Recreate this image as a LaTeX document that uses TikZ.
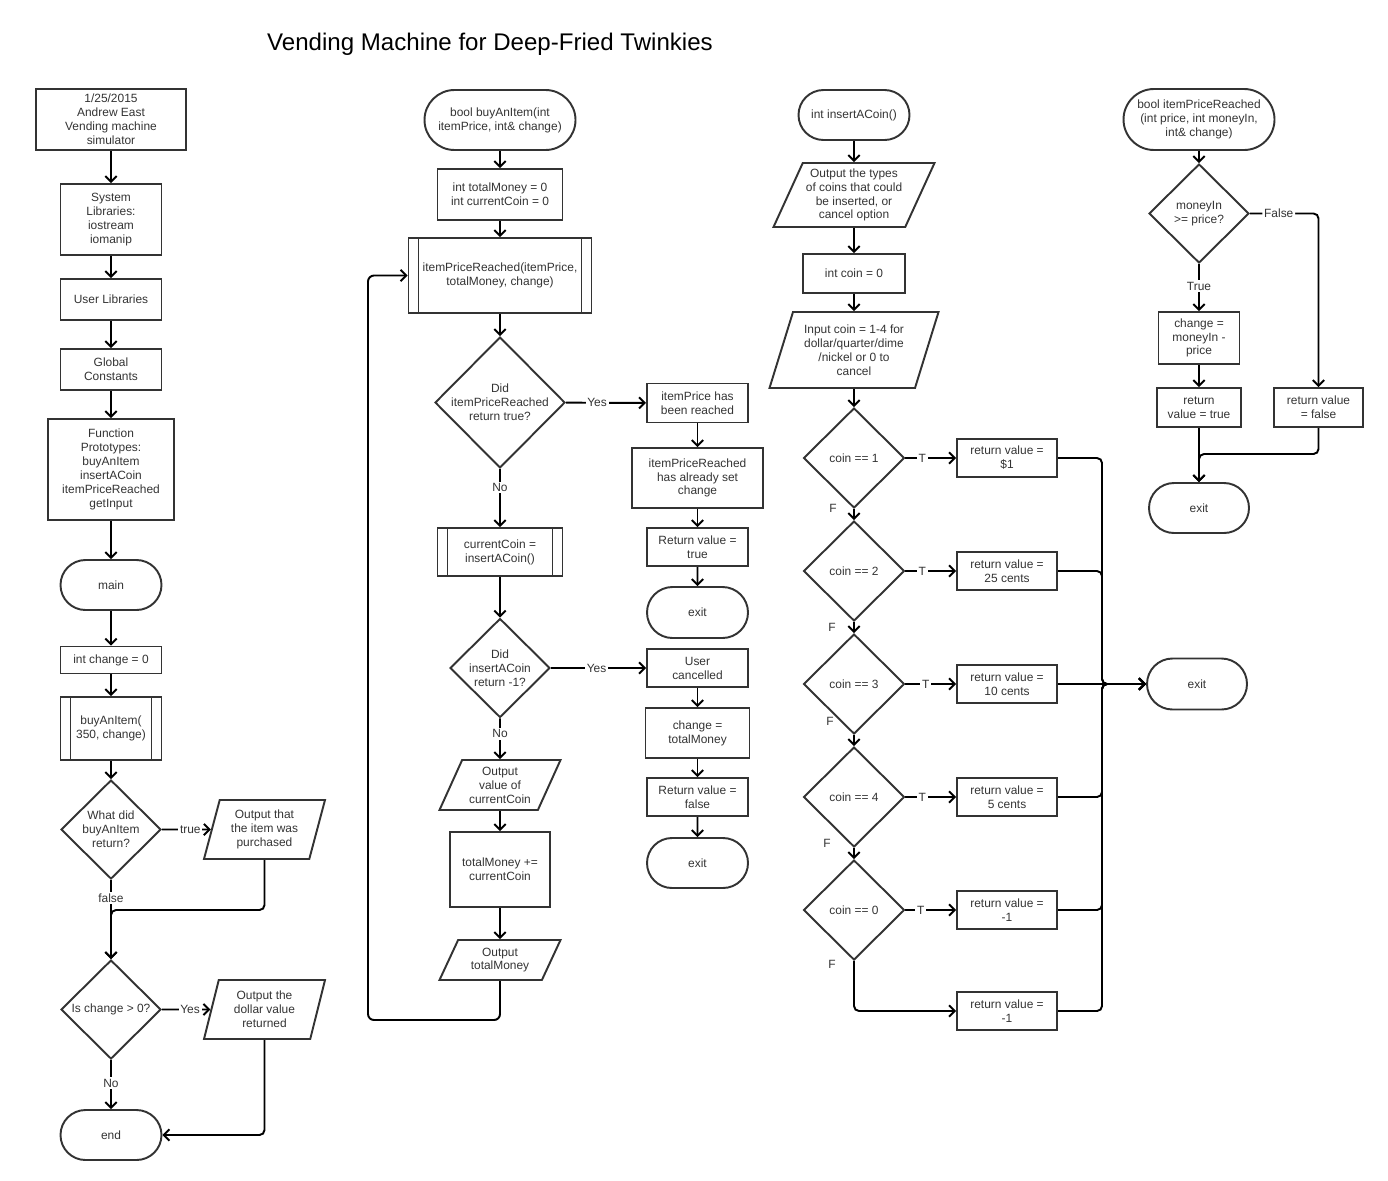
\documentclass[tikz,border=0pt]{standalone}
\usepackage{fontspec}
\setmainfont{Liberation Sans}
\usetikzlibrary{shapes.geometric,shapes.misc,arrows.meta}
\pgfdeclarelayer{bg}
\pgfsetlayers{bg,main}
\definecolor{boxline}{RGB}{51,51,51}
\definecolor{txtgray}{RGB}{51,51,51}
\tikzset{
    every node/.style={font=\fontsize{6.8}{7.9}\selectfont, text=txtgray, align=center, inner sep=0mm}
}
\tikzset{
    wh/.style 2 args={minimum width={#1*0.02cm}, minimum height={#2*0.02cm}},
    proc/.style={rectangle, draw=boxline, line width=1.1pt},
    term/.style={rounded rectangle, draw=boxline, line width=1.1pt},
    subproc/.style={proc, path picture={
        \draw [line width=1.1pt, boxline]
            ([xshift=0.2cm]path picture bounding box.north west) -- ([xshift=0.2cm]path picture bounding box.south west)
            ([xshift=-0.2cm]path picture bounding box.north east) -- ([xshift=-0.2cm]path picture bounding box.south east);}},
    decide/.style={diamond, draw=boxline, line width=1.1pt, inner sep=-3pt},
    io/.code={\pgfmathsetmacro\ioright{180-#1}%
        \tikzset{trapezium, trapezium left angle=#1, trapezium right angle/.expanded=\ioright,
            trapezium stretches body, draw=boxline, line width=1.1pt}},
    io/.default=60,
    flow/.style={line width=1.1pt, -{Straight Barb[length=3.2pt, width=6.4pt, line width=1.1pt]}},
    lbl/.style={fill=white, inner sep=1pt}
}

\begin{document}
\begin{tikzpicture}[x=0.02cm, y=-0.02cm]
        \useasboundingbox (0,0) rectangle (1388,1180);
        \node (title) [font=\fontsize{13.7}{16}\selectfont, text=black] at (490, 44) {Vending Machine for Deep-Fried Twinkies};
        \node (hdr) [proc, wh={150}{61}] at (111, 119.5) {1/25/2015\\Andrew East\\Vending machine\\simulator};
        \node (syslib) [proc, wh={101}{71}] at (111, 219.5) {System\\Libraries:\\iostream\\iomanip};
        \node (usrlib) [proc, wh={101}{41}] at (111, 299.5) {User Libraries};
        \node (glob) [proc, wh={101}{41}] at (111, 369.5) {Global\\Constants};
        \node (proto) [proc, wh={126}{101}] at (111, 469.5) {Function\\Prototypes:\\buyAnItem\\insertACoin\\itemPriceReached\\getInput};
        \node (mainT) [term, wh={101}{50}] at (111, 585) {main};
        \node (chg0) [proc, wh={101}{27}] at (111, 660) {int change = 0};
        \node (callbuy) [subproc, wh={101}{63}] at (111, 728.5) {buyAnItem(\\350, change)};
        \node (askbuy) [decide, wh={100}{99}] at (111, 829.5) {What did\\buyAnItem\\return?};
        \node (outbuy) [io=68, wh={121}{59}] at (264.5, 829.5) {Output that\\the item was\\purchased};
        \node (askchg) [decide, wh={100}{99}] at (111, 1009.5) {Is change > 0?};
        \node (outchg) [io=68, wh={121}{59}] at (264.5, 1009.5) {Output the\\dollar value\\returned};
        \node (endT) [term, wh={101}{50}] at (111, 1135) {end};
        \coordinate (mg1) at (111, 910);

        \node (buyT) [term, wh={151}{60}] at (500, 120) {bool buyAnItem(int\\itemPrice, int\& change)};
        \node (vars) [proc, wh={125}{51}] at (500, 194.5) {int totalMoney = 0\\int currentCoin = 0};
        \node (callreach) [subproc, wh={183}{75}] at (500, 275.5) {itemPriceReached(itemPrice,\\totalMoney, change)};
        \node (askreach) [decide, wh={130}{131}] at (500, 402.5) {Did\\itemPriceReached\\return true?};
        \node (reached) [proc, wh={101}{39}] at (697.5, 403) {itemPrice has\\been reached};
        \node (alreadyset) [proc, wh={131}{60}] at (697.5, 478) {itemPriceReached\\has already set\\change};
        \node (rettrue) [proc, wh={101}{38}] at (697.5, 547) {Return value =\\true};
        \node (exitA) [term, wh={101}{51}] at (697.5, 612.5) {exit};
        \node (callcoin) [subproc, wh={125}{48}] at (500, 552) {currentCoin =\\insertACoin()};
        \node (askcancel) [decide, wh={100}{99}] at (500, 668) {Did\\insertACoin\\return -1?};
        \node (cancelled) [proc, wh={101}{38}] at (697.5, 668) {User\\cancelled};
        \node (settotal) [proc, wh={104}{50}] at (697.5, 733) {change =\\totalMoney};
        \node (retfalse) [proc, wh={101}{38}] at (697.5, 797) {Return value =\\false};
        \node (exitB) [term, wh={101}{50}] at (697.5, 863) {exit};
        \node (outcoin) [io=58, wh={121}{50}] at (500, 785) {Output\\value of\\currentCoin};
        \node (addcoin) [proc, wh={100}{75}] at (500, 869.5) {totalMoney +=\\currentCoin};
        \node (outtotal) [io=53, wh={121}{40}] at (500, 960) {Output\\totalMoney};
        \coordinate (lp1) at (368, 1020);

        \node (coinT) [term, wh={111}{50}] at (854, 115) {int insertACoin()};
        \node (outtypes) [io=61, wh={161}{64}] at (854, 195) {Output the types\\of coins that could\\be inserted, or\\cancel option};
        \node (coin0) [proc, wh={102}{39}] at (854, 273.5) {int coin = 0};
        \node (incoin) [io=65, wh={169}{76}] at (854, 350) {Input coin = 1-4 for\\dollar/quarter/dime\\/nickel or 0 to\\cancel};
        \node (c1) [decide, wh={101}{100}] at (854, 458) {coin == 1};
        \node (c2) [decide, wh={101}{100}] at (854, 571) {coin == 2};
        \node (c3) [decide, wh={101}{100}] at (854, 684) {coin == 3};
        \node (c4) [decide, wh={101}{100}] at (854, 797) {coin == 4};
        \node (c5) [decide, wh={101}{100}] at (854, 910) {coin == 0};
        \node (r1) [proc, wh={100}{38}] at (1007, 458) {return value =\\\$1};
        \node (r2) [proc, wh={100}{38}] at (1007, 571) {return value =\\25 cents};
        \node (r3) [proc, wh={100}{38}] at (1007, 684) {return value =\\10 cents};
        \node (r4) [proc, wh={100}{38}] at (1007, 797) {return value =\\5 cents};
        \node (r5) [proc, wh={100}{38}] at (1007, 910) {return value =\\-1};
        \node (r6) [proc, wh={100}{38}] at (1007, 1011) {return value =\\-1};
        \node (f1) at (833, 508) {F};
        \node (f2) at (832, 627) {F};
        \node (f3) at (830, 721) {F};
        \node (f4) at (827, 843) {F};
        \node (f5) at (832, 964) {F};
        \node (cexit) [term, wh={100}{51}] at (1197, 684) {exit};
        \coordinate (mx) at (1102, 684);

        \node (reachT) [term, wh={151}{61}] at (1199, 119.5) {bool itemPriceReached\\(int price, int moneyIn,\\int\& change)};
        \node (askmoney) [decide, wh={100}{99}] at (1199, 213.5) {moneyIn\\>= price?};
        \node (calcchg) [proc, wh={81}{52}] at (1199, 338) {change =\\moneyIn -\\price};
        \node (rtrue) [proc, wh={84}{39}] at (1199, 407.5) {return\\value = true};
        \node (rfalse) [proc, wh={89}{39}] at (1318.5, 407.5) {return value\\= false};
        \node (exitC) [term, wh={100}{50}] at (1199, 508) {exit};
        \coordinate (mg4) at (1199, 454);
        \begin{pgfonlayer}{bg}
                \draw (hdr) edge [flow] (syslib);
                \draw (syslib) edge [flow] (usrlib);
                \draw (usrlib) edge [flow] (glob);
                \draw (glob) edge [flow] (proto);
                \draw (proto) edge [flow] (mainT);
                \draw (mainT) edge [flow] (chg0);
                \draw (chg0) edge [flow] (callbuy);
                \draw (callbuy) edge [flow] (askbuy);
                \draw (askbuy) edge [flow] node [lbl, pos=.58] {true} (outbuy);
                \draw (askbuy) edge [flow] node [lbl, pos=.23] {false} (askchg);
                \draw [flow, rounded corners=0.1cm] (outbuy.south) |- (mg1) -- (askchg.north);
                \draw (askchg) edge [flow] node [lbl, pos=.58] {Yes} (outchg);
                \draw (askchg) edge [flow] node [lbl, pos=.47] {No} (endT);
                \draw [flow, rounded corners=0.1cm] (outchg.south) |- (endT.east);

                \draw (buyT) edge [flow] (vars);
                \draw (vars) edge [flow] (callreach);
                \draw (callreach) edge [flow] (askreach);
                \draw (askreach) edge [flow] node [lbl, pos=.39] {Yes} (reached);
                \draw (reached) edge [flow] (alreadyset);
                \draw (alreadyset) edge [flow] (rettrue);
                \draw (rettrue) edge [flow] (exitA);
                \draw (askreach) edge [flow] node [lbl, pos=.32] {No} (callcoin);
                \draw (callcoin) edge [flow] (askcancel);
                \draw (askcancel) edge [flow] node [lbl, pos=.48] {Yes} (cancelled);
                \draw (cancelled) edge [flow] (settotal);
                \draw (settotal) edge [flow] (retfalse);
                \draw (retfalse) edge [flow] (exitB);
                \draw (askcancel) edge [flow] node [lbl, pos=.38] {No} (outcoin);
                \draw (outcoin) edge [flow] (addcoin);
                \draw (addcoin) edge [flow] (outtotal);
                \draw [flow, rounded corners=0.12cm] (outtotal.south) |- (lp1) |- (callreach.west);

                \draw (coinT) edge [flow] (outtypes);
                \draw (outtypes) edge [flow] (coin0);
                \draw (coin0) edge [flow] (incoin);
                \draw (incoin) edge [flow] (c1);
                \draw (c1) edge [flow] (c2);
                \draw (c2) edge [flow] (c3);
                \draw (c3) edge [flow] (c4);
                \draw (c4) edge [flow] (c5);
                \draw (c1) edge [flow] node [lbl, pos=.33] {T} (r1);
                \draw (c2) edge [flow] node [lbl, pos=.33] {T} (r2);
                \draw (c3) edge [flow] node [lbl, pos=.40] {T} (r3);
                \draw (c4) edge [flow] node [lbl, pos=.33] {T} (r4);
                \draw (c5) edge [flow] node [lbl, pos=.30] {T} (r5);
                \draw [flow, rounded corners=0.1cm] (c5.south) |- (r6.west);
                \draw [flow, rounded corners=0.1cm] (r1.east) -| (mx) -- (cexit.west);
                \draw [flow, rounded corners=0.1cm] (r2.east) -| (mx) -- (cexit.west);
                \draw [flow] (r3.east) -- (cexit.west);
                \draw [flow, rounded corners=0.1cm] (r4.east) -| (mx) -- (cexit.west);
                \draw [flow, rounded corners=0.1cm] (r5.east) -| (mx) -- (cexit.west);
                \draw [flow, rounded corners=0.1cm] (r6.east) -| (mx) -- (cexit.west);

                \draw (reachT) edge [flow] (askmoney);
                \draw (askmoney) edge [flow] node [lbl, pos=.47] {True} (calcchg);
                \draw [flow, rounded corners=0.1cm] (askmoney.east) -| node [lbl, pos=.21] {False} (rfalse.north);
                \draw (calcchg) edge [flow] (rtrue);
                \draw (rtrue) edge [flow] (exitC);
                \draw [flow, rounded corners=0.1cm] (rfalse.south) |- (mg4) -- (exitC.north);
        \end{pgfonlayer}
\end{tikzpicture}
\end{document}
